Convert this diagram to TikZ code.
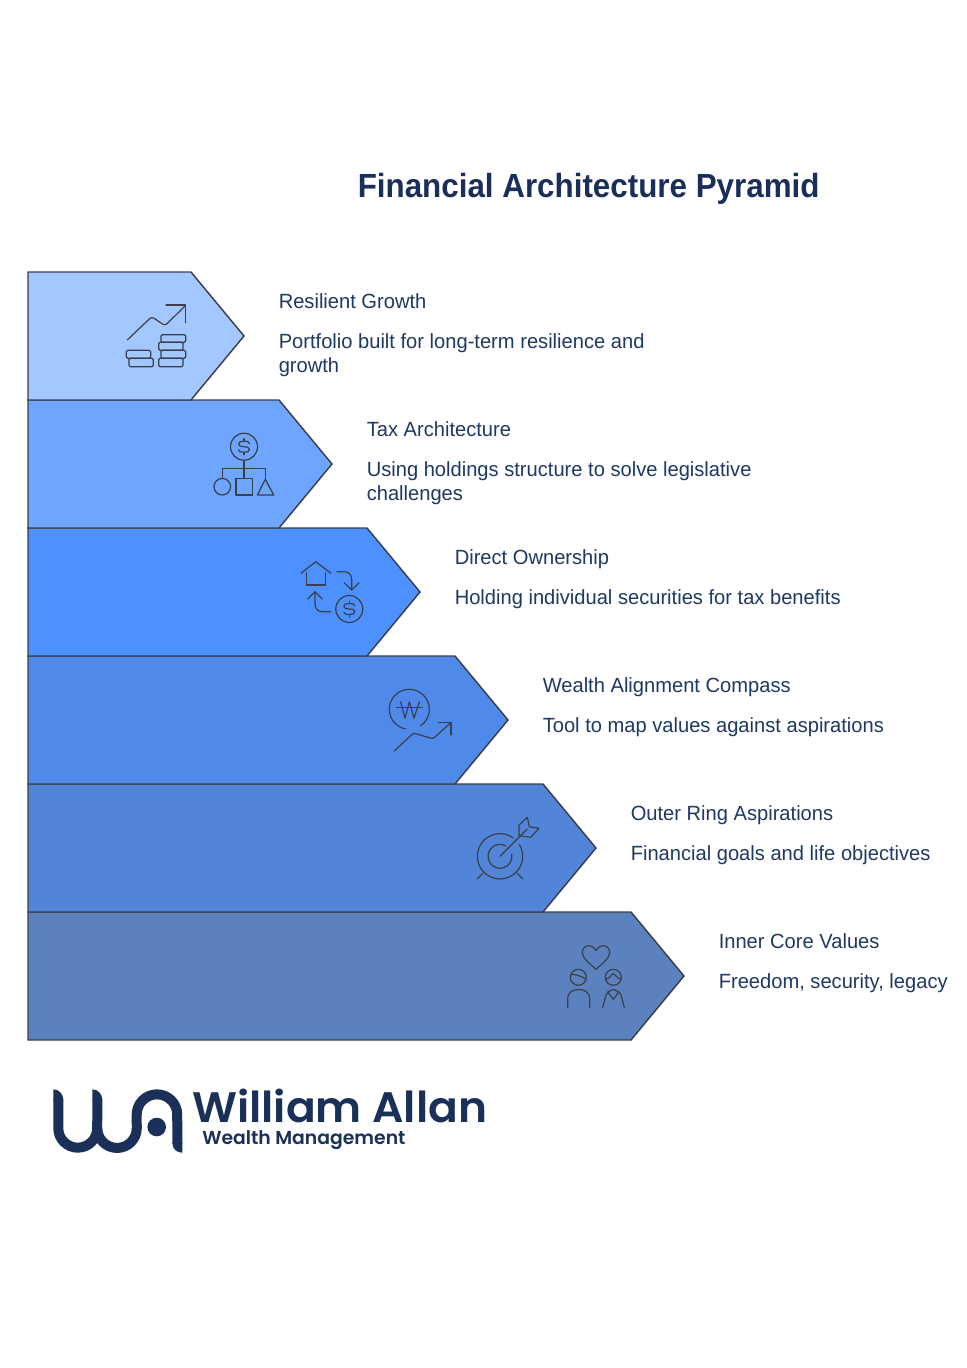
\documentclass[tikz,border=0pt]{standalone}
\usepackage{fontspec}
\setmainfont{Liberation Sans}
\newfontfamily\labelfont{Liberation Sans}[FakeStretch=0.98]
\newfontfamily\titlefont{Liberation Sans}[FakeStretch=0.937]
\newfontfamily\logofont{Poppins SemiBold}[FakeStretch=1.03]
\newfontfamily\logosubfont{Poppins SemiBold}
\definecolor{txt}{HTML}{1F3864}
\definecolor{ttl}{HTML}{1A2E5A}
\definecolor{logoc}{HTML}{1B3059}
\definecolor{ln}{HTML}{3A3F48}
\definecolor{ca}{HTML}{A3C7FF}
\definecolor{cb}{HTML}{6EA5FF}
\definecolor{cc}{HTML}{4D90FF}
\definecolor{cd}{HTML}{4F8AEB}
\definecolor{ce}{HTML}{5285D7}
\definecolor{cf}{HTML}{5B82BF}
\tikzset{
  chev/.style={draw=ln,line width=1.1pt,line join=miter},
  ico/.style={draw=ln,line width=0.9pt,line cap=round,line join=round,fill=none},
  lbl/.style={anchor=base west,inner sep=0pt,text=txt,font=\labelfont\fontsize{15.4pt}{18pt}\selectfont},
  logostroke/.style={draw=logoc,line width=7.5pt,fill=none,line cap=butt}
}
\newcommand{\chevron}[3]{% y, shoulder x, colour
  \path[chev,fill=#3] (28,#1) -- (#2,#1) -- ({#2+53},{#1+64}) -- (#2,{#1+128}) -- (28,{#1+128}) -- cycle;}
\newcommand{\dollar}[2]{%
  \begin{scope}[shift={(#1,#2)}]
  \path[ico] (5.5,-3.2) .. controls (5,-5.5) and (3,-5.5) .. (0,-5.5) .. controls (-3,-5.5) and (-5.5,-5) .. (-5.5,-2.8) .. controls (-5.5,-0.5) and (-3,0) .. (0,0) .. controls (3,0) and (5.5,0.5) .. (5.5,2.8) .. controls (5.5,5) and (3,5.5) .. (0,5.5) .. controls (-3,5.5) and (-5,5.5) .. (-5.5,3.2);
  \path[ico] (0,-5.5) -- (0,-8) (0,5.5) -- (0,8);
  \path[ico] (0,0) circle[radius=13.5];
  \end{scope}}
\begin{document}
\begin{tikzpicture}[x=0.75pt,y=-0.75pt]
\path[use as bounding box,fill=white] (0,0) rectangle (967,1368);
% chevrons, bottom first so the upper outlines stay visible
\chevron{912}{631}{cf}
\chevron{784}{543}{ce}
\chevron{656}{455}{cd}
\chevron{528}{367}{cc}
\chevron{400}{279}{cb}
\chevron{272}{191}{ca}
% title
\node[anchor=base west,inner sep=0pt,text=ttl,font=\titlefont\bfseries\fontsize{25.1pt}{30pt}\selectfont] (title) at (357.5,197.7) {Financial Architecture Pyramid};
% labels
\node[lbl] (h1) at (278.5,308) {Resilient Growth};
\node[lbl] (d1a) at (278.5,348) {Portfolio built for long-term resilience and};
\node[lbl] (d1b) at (278.5,372) {growth};
\node[lbl] (h2) at (366.5,436) {Tax Architecture};
\node[lbl] (d2a) at (366.5,476) {Using holdings structure to solve legislative};
\node[lbl] (d2b) at (366.5,500) {challenges};
\node[lbl] (h3) at (454.5,564) {Direct Ownership};
\node[lbl] (d3) at (454.5,604) {Holding individual securities for tax benefits};
\node[lbl] (h4) at (542.5,692) {Wealth Alignment Compass};
\node[lbl] (d4) at (542.5,732) {Tool to map values against aspirations};
\node[lbl] (h5) at (630.5,820) {Outer Ring Aspirations};
\node[lbl] (d5) at (630.5,860) {Financial goals and life objectives};
\node[lbl] (h6) at (718.5,948) {Inner Core Values};
\node[lbl] (d6) at (718.5,988) {Freedom, security, legacy};
% icon 1
\path[ico,rounded corners=2pt] (127.3,340) -- (151.7,316.7) -- (165,325.7) -- (185,306);
\path[ico] (166,305) -- (185.7,305) -- (185.7,322.7);
\path[ico,rounded corners=1pt] (161,334.7) rectangle (185.7,342.3);
\path[ico,rounded corners=1pt] (158.7,342.3) rectangle (183,350.3);
\path[ico,rounded corners=1pt] (161,350.3) rectangle (185.7,358.3);
\path[ico,rounded corners=1pt] (158.7,358.3) rectangle (183,366.7);
\path[ico,rounded corners=1pt] (126.3,350.3) rectangle (150.7,358.3);
\path[ico,rounded corners=1pt] (129,358.3) rectangle (153.3,366.7);
% icon 2
\dollar{244}{446.7}
\path[ico] (244,460.2) -- (244,478.5);
\path[ico] (222.3,478.3) -- (222.3,468.3) -- (265.3,468.3) -- (265.3,479);
\path[ico] (222.3,486.7) circle[radius=8.3];
\path[ico] (236,478.7) rectangle (252.3,495);
\path[ico] (265.3,479.3) -- (273.7,495) -- (257.3,495) -- cycle;
% icon 3
\path[ico] (301,573.3) -- (315.7,561.7) -- (331,573.3);
\path[ico] (306.3,572.7) -- (306.3,585) -- (325.3,585) -- (325.3,572.7);
\path[ico] (337,571.7) -- (344,571.7) .. controls (349,571.7) and (351.7,575) .. (351.7,580) -- (351.7,590);
\path[ico] (344.3,582.7) -- (351.7,590) -- (359,582.7);
\path[ico] (330.7,611.7) -- (322,611.7) .. controls (317,611.7) and (315,608) .. (315,603) -- (315,592);
\path[ico] (307.7,599) -- (315,591.7) -- (322.3,599);
\dollar{349.3}{609}
% icon 4
\path[ico] ([shift={(-55.5:15pt)}]409.3,709.3) arc[start angle=-55.5,end angle=259.3,radius=15pt];
\path[ico] (400.7,701.7) -- (405,718.3) -- (409.3,701.7) -- (414,718.3) -- (419.3,701.7);
\path[ico] (396.7,707.3) -- (422.3,707.3);
\path[ico] (394.3,751) .. controls (404,742) and (409,737) .. (412,734.5) .. controls (414,733) and (415,733.3) .. (417,734) -- (430,738) .. controls (432.5,738.6) and (433.5,738.5) .. (435,737) -- (450.7,722.7);
\path[ico] (438.3,722.7) -- (451,722.7) -- (451,735);
% icon 5
\path[ico] ([shift={(55:17pt)}]500,856.3) arc[start angle=55,end angle=391,radius=17pt];
\path[ico] ([shift={(60:9pt)}]500,856.3) arc[start angle=60,end angle=370,radius=9pt];
\path[ico] (482.7,873.3) -- (477.3,879);
\path[ico] (517.3,873.3) -- (522.7,879);
\path[ico] (500,856.3) -- (527.3,829);
\path[ico] (519,825) -- (527.3,817.3) -- (529.3,826.7) -- (539,828.3) -- (530.7,837.3) -- (519,835.7) -- cycle;
% icon 6
\path[ico] (596,969.3) .. controls (588,962) and (582.3,958) .. (582.3,952.5) .. controls (582.3,948) and (585.5,945.7) .. (589,945.7) .. controls (592,945.7) and (594.5,947.5) .. (596,950.5) .. controls (597.5,947.5) and (600,945.7) .. (603,945.7) .. controls (606.5,945.7) and (609.7,948) .. (609.7,952.5) .. controls (609.7,958) and (604,962) .. (596,969.3) -- cycle;
\path[ico] (578.3,977.3) circle[radius=8];
\path[ico] (571,974.3) .. controls (575,974.5) and (581,975.5) .. (586,979.3);
\path[ico] (567.7,1007.3) -- (567.7,999) .. controls (567.7,992) and (573,989.5) .. (578.7,989.5) .. controls (584.4,989.5) and (589.7,992) .. (589.7,999) -- (589.7,1007.3);
\path[ico] (613.3,977.3) circle[radius=8];
\path[ico] (605.7,979) .. controls (609,979) and (611,975) .. (613.3,973.5) .. controls (615.5,975) and (618,979) .. (621,979);
\path[ico] (602.7,1007.3) -- (606,995) .. controls (607,992) and (610,990.5) .. (613.3,989.3) .. controls (616.6,990.5) and (620,992) .. (621,995) -- (624.3,1007.3);
\path[ico] (607.7,991.7) -- (613.3,999.3) -- (619,991.7);
% logo
\path[logostroke] (58.3,1099) -- (58.3,1128.2) arc[start angle=180,end angle=360,radius=14.6pt] -- (97.3,1099);
\path[fill=logoc] (53.3,1100) -- (53.3,1089.3) .. controls (59,1089.3) and (63.3,1094) .. (63.3,1100) -- cycle;
\path[fill=logoc] (92.3,1100) -- (92.3,1089.3) .. controls (98,1089.3) and (102.3,1094) .. (102.3,1100) -- cycle;
\path[logostroke] (97.3,1128.2) arc[start angle=180,end angle=360,radius=14.8pt] -- (136.7,1114.6) arc[start angle=180,end angle=0,radius=15.2pt] -- (177.3,1144);
\path[fill=logoc] (172.3,1143) .. controls (172.3,1149) and (177,1152.7) .. (182.3,1152.7) -- (182.3,1143) -- cycle;
\path[fill=logoc] (156.7,1127) circle[radius=9.3];
\node[anchor=base west,inner sep=0pt,text depth=0pt,text=logoc,font=\logofont\fontsize{32pt}{36pt}\selectfont] (wa) at (192,1122) {William Allan};
\node[anchor=base west,inner sep=0pt,text=logoc,font=\logosubfont\fontsize{14.1pt}{16pt}\selectfont] (wm) at (202,1144) {Wealth Management};
\end{tikzpicture}
\end{document}
